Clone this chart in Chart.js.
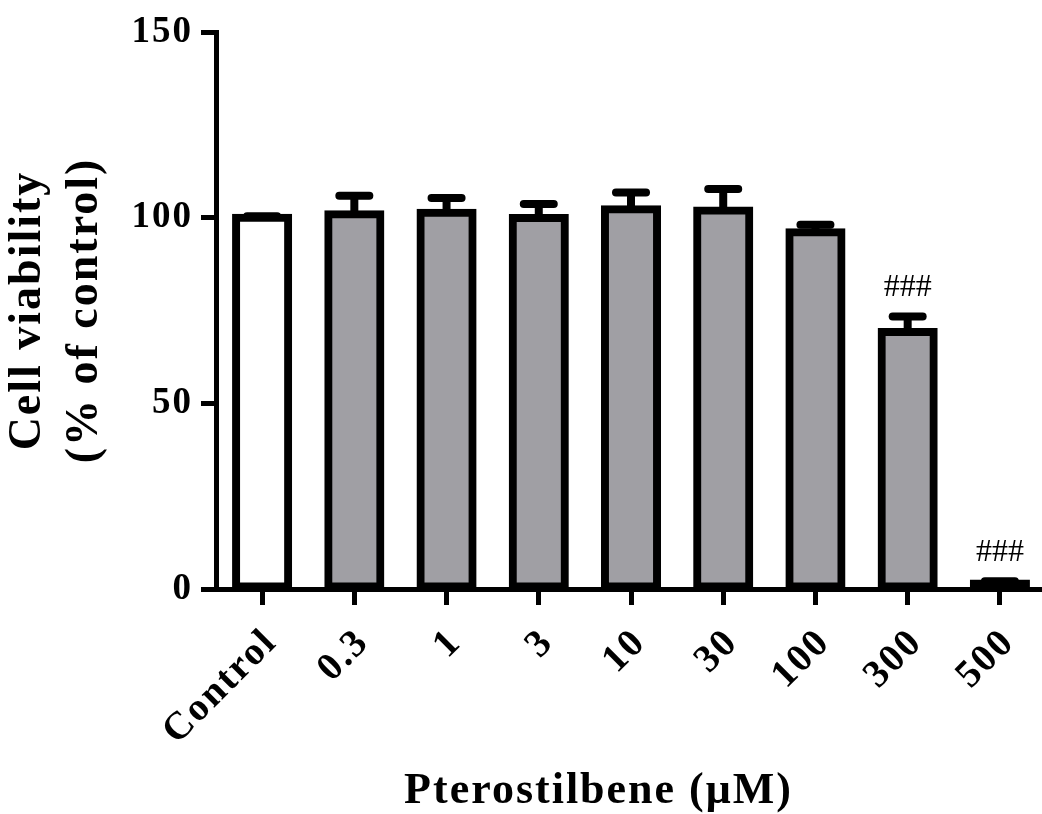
<!DOCTYPE html>
<html><head><meta charset="utf-8">
<script src="https://cdn.jsdelivr.net/npm/chart.js@4.4.1/dist/chart.umd.min.js"></script>
<style>html,body{margin:0;padding:0;background:#fff;overflow:hidden;width:1042px;height:814px}canvas{display:block}</style>
</head><body>
<canvas id="c" width="1050" height="814"></canvas>
<script>
const categories = ['Control', '0.3', '1', '3', '10', '30', '100', '300', '500'];
const viability = [100, 100.9, 101.3, 99.9, 102.3, 101.9, 96.1, 69.2, 1.5];
const errorUp = [0.4, 5.0, 4.0, 3.8, 4.5, 5.8, 2.0, 4.2, 0.6];
const significance = ['', '', '', '', '', '', '', '###', '###'];
const barColors = ['#ffffff', '#a09fa4', '#a09fa4', '#a09fa4', '#a09fa4', '#a09fa4', '#a09fa4', '#a09fa4', '#000000'];
const yTicks = [0, 50, 100, 150];
const yTitle = ['Cell viability', '(% of control)'];
const xTitle = 'Pterostilbene (\u03bcM)     ';

const FAMILY = "'Liberation Serif', 'Times New Roman', serif";

const spacingPlugin = {
  id: 'spacing',
  beforeLayout(chart) { chart.ctx.letterSpacing = '2px'; },
  beforeDraw(chart) { chart.ctx.letterSpacing = '2px'; }
};

const errorBarPlugin = {
  id: 'errorBars',
  afterDatasetsDraw(chart) {
    const ctx = chart.ctx;
    const meta = chart.getDatasetMeta(0);
    const y = chart.scales.y;
    ctx.save();
    ctx.strokeStyle = '#000';
    ctx.fillStyle = '#000';
    ctx.lineWidth = 8;
    meta.data.forEach((bar, i) => {
      const top = y.getPixelForValue(viability[i] + errorUp[i]);
      const base = y.getPixelForValue(viability[i]);
      ctx.beginPath();
      ctx.lineCap = 'butt';
      ctx.moveTo(bar.x, base);
      ctx.lineTo(bar.x, top);
      ctx.stroke();
      ctx.beginPath();
      ctx.lineCap = 'round';
      ctx.moveTo(bar.x - 15, top);
      ctx.lineTo(bar.x + 15, top);
      ctx.stroke();
      if (significance[i]) {
        ctx.letterSpacing = '0px';
        ctx.font = '32px ' + FAMILY;
        ctx.textAlign = 'center';
        ctx.textBaseline = 'alphabetic';
        ctx.fillText(significance[i], bar.x, top - 20);
      }
    });
    ctx.restore();
  }
};

new Chart(document.getElementById('c'), {
  type: 'bar',
  data: {
    labels: categories,
    datasets: [{
      data: viability,
      backgroundColor: barColors,
      borderColor: '#000',
      borderWidth: 8,
      borderSkipped: false,
      inflateAmount: 4,
      barPercentage: 0.565,
      categoryPercentage: 1.0
    }]
  },
  options: {
    responsive: false,
    animation: false,
    devicePixelRatio: 1,
    layout: { padding: { top: 32, right: 4, left: 0, bottom: 0 } },
    plugins: { legend: { display: false }, tooltip: { enabled: false } },
    scales: {
      x: {
        afterFit: s => { s.height = 225; },
        grid: { display: true, drawOnChartArea: false, drawTicks: true, tickLength: 16, offset: false, color: '#000', lineWidth: 5 },
        border: { display: true, color: '#000', width: 5 },
        ticks: { color: '#000', font: { family: FAMILY, size: 39, weight: 'bold' }, minRotation: 45, maxRotation: 45, padding: 15, labelOffset: 9, autoSkip: false },
        title: { display: true, text: xTitle, color: '#000', font: { family: FAMILY, size: 44, weight: 'bold', lineHeight: 1 }, padding: { top: 0, bottom: 0 } }
      },
      y: {
        min: 0, max: 150,
        afterFit: s => { s.width = 216; },
        afterBuildTicks: s => { s.ticks = yTicks.map(v => ({ value: v })); },
        grid: { display: true, drawOnChartArea: false, drawTicks: true, tickLength: 15, color: '#000', lineWidth: 5 },
        border: { display: true, color: '#000', width: 5 },
        ticks: { color: '#000', font: { family: FAMILY, size: 37, weight: 'bold' }, padding: 8 },
        title: { display: true, text: yTitle, color: '#000', font: { family: FAMILY, size: 46, weight: 'bold', lineHeight: 1.24 }, padding: { top: 0, bottom: 0 } }
      }
    }
  },
  plugins: [spacingPlugin, errorBarPlugin]
});
</script>
</body></html>
